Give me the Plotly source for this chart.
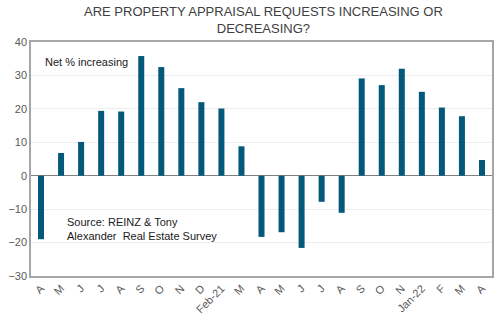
import plotly.graph_objects as go

# Monthly survey readings, Apr 2020 – Apr 2022
months = ["A", "M", "J", "J", "A", "S", "O", "N", "D", "Feb-21", "M",
          "A", "M", "J", "J", "A", "S", "O", "N", "Jan-22", "F", "M", "A"]
net_increasing = [-19.0, 6.8, 10.1, 19.4, 19.2, 35.8, 32.5, 26.2, 22.0, 20.1, 8.8,
                  -18.3, -16.9, -21.6, -7.8, -11.1, 29.1, 27.1, 32.0, 25.1, 20.4, 17.8, 4.7]
y_ticks = [-30, -20, -10, 0, 10, 20, 30, 40]

positions = list(range(len(months)))
font = "Liberation Sans, Arial, sans-serif"

fig = go.Figure(
    go.Bar(
        x=positions,
        y=net_increasing,
        marker=dict(color="#04587A", line=dict(width=0)),
        width=0.3,
    )
)

fig.update_layout(
    width=501,
    height=322,
    margin=dict(l=31, r=7, t=42, b=44),
    paper_bgcolor="white",
    plot_bgcolor="white",
    showlegend=False,
    font=dict(family=font, size=11, color="#595959"),
)

fig.update_xaxes(
    range=[-0.5, len(months) - 0.5],
    tickmode="array",
    tickvals=positions,
    ticktext=months,
    tickangle=-45,
    ticks="",
    showgrid=False,
    zeroline=False,
    showline=True,
    linecolor="#A6A6A6",
    linewidth=1.5,
    mirror=True,
    tickfont=dict(family=font, size=11, color="#595959"),
)

fig.update_yaxes(
    range=[-30, 40],
    tickmode="array",
    tickvals=y_ticks,
    ticks="",
    showgrid=True,
    gridcolor="#EDEDED",
    gridwidth=1,
    zeroline=True,
    zerolinecolor="#808080",
    zerolinewidth=1,
    showline=True,
    linecolor="#A6A6A6",
    linewidth=1.5,
    mirror=True,
    tickfont=dict(family=font, size=11, color="#595959"),
)

# Chart title, two lines above the plot area
fig.add_annotation(
    text="ARE PROPERTY APPRAISAL REQUESTS INCREASING OR<br>DECREASING?",
    xref="paper", yref="paper", x=0.505, y=1.095,
    xanchor="center", yanchor="middle", align="center", showarrow=False,
    font=dict(family=font, size=13, color="#404040"),
)

fig.add_annotation(
    text="Net % increasing",
    xref="paper", yref="paper", x=0.025, y=0.915,
    xanchor="left", yanchor="middle", showarrow=False,
    font=dict(family=font, size=11, color="#1A1A1A"),
)
fig.add_annotation(
    text="Source: REINZ & Tony<br>Alexander  Real Estate Survey",
    xref="paper", yref="paper", x=0.073, y=0.2,
    xanchor="left", yanchor="middle", align="left", showarrow=False,
    font=dict(family=font, size=11, color="#1A1A1A"),
)

fig.write_html("out.html")
